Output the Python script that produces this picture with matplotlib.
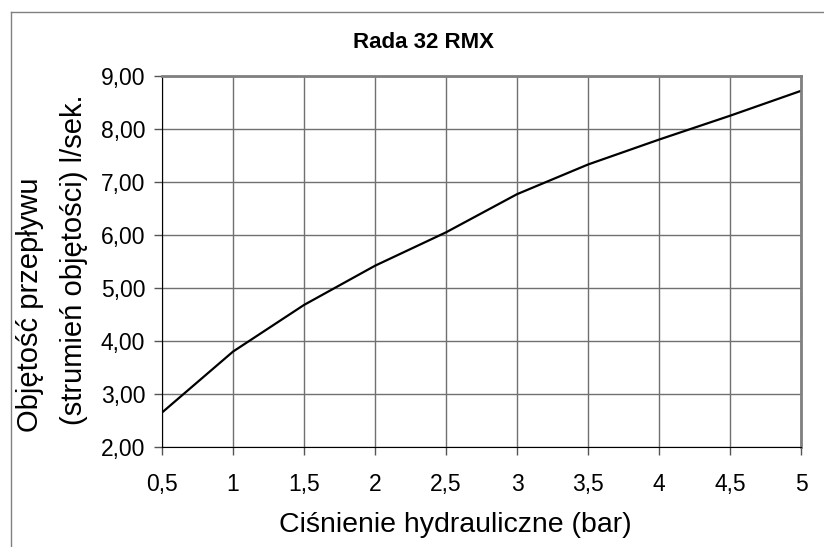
import matplotlib
matplotlib.use("Agg")
import matplotlib.pyplot as plt
from matplotlib.lines import Line2D

plt.rcParams['font.family'] = ['Liberation Sans', 'DejaVu Sans']

# ciśnienie (bar) i przepływ (l/sek.)
pressure = [0.5, 1, 1.5, 2, 2.5, 3, 3.5, 4, 4.5, 5]
flow = [2.65, 3.80, 4.68, 5.42, 6.05, 6.77, 7.33, 7.80, 8.25, 8.72]
x_ticks = [0.5, 1, 1.5, 2, 2.5, 3, 3.5, 4, 4.5, 5]
x_labels = ["0,5", "1", "1,5", "2", "2,5", "3", "3,5", "4", "4,5", "5"]
y_ticks = [2, 3, 4, 5, 6, 7, 8, 9]
y_labels = ["2,00", "3,00", "4,00", "5,00", "6,00", "7,00", "8,00", "9,00"]

W, H = 824, 547
fig = plt.figure(figsize=(W / 100, H / 100), dpi=100)
ax = fig.add_axes([162 / W, 1 - 447 / H, (801 - 162) / W, (447 - 76) / H])

ax.plot(pressure, flow, color='black', lw=1.6)
ax.set_xlim(0.5, 5)
ax.set_ylim(2, 9)
ax.set_xticks(x_ticks, x_labels)
ax.set_yticks(y_ticks, y_labels)
ax.tick_params(direction='out', length=6, width=1, color='#555555', labelsize=16.5)
ax.tick_params(axis='x', pad=13)
ax.tick_params(axis='y', pad=6)
ax.grid(True, color='#707070', lw=1)

ax.spines['left'].set_color('black')
ax.spines['bottom'].set_color('black')
for s in ['top', 'right']:
    ax.spines[s].set_color('#808080')
    ax.spines[s].set_linewidth(2)

fig.text(423 / W, 1 - 43 / H, "Rada 32 RMX", fontsize=16, fontweight='bold',
         ha='center', va='center')
fig.text(455 / W, 1 - 525 / H, "Ciśnienie hydrauliczne (bar)", fontsize=20.5,
         ha='center', va='center')
fig.text(30 / W, 1 - 305 / H, "Objętość przepływu", fontsize=21, rotation=90,
         ha='center', va='center')
fig.text(74 / W, 1 - 260 / H, "(strumień objętości) l/sek.", fontsize=21, rotation=90,
         ha='center', va='center')

# ramka wykresu (lewa i górna krawędź)
fig.add_artist(Line2D([11 / W, 11 / W], [0, 1 - 12 / H], color='#808080', lw=1))
fig.add_artist(Line2D([11 / W, 1], [1 - 12 / H, 1 - 12 / H], color='#808080', lw=1))

fig.savefig("out.png", dpi=100)
